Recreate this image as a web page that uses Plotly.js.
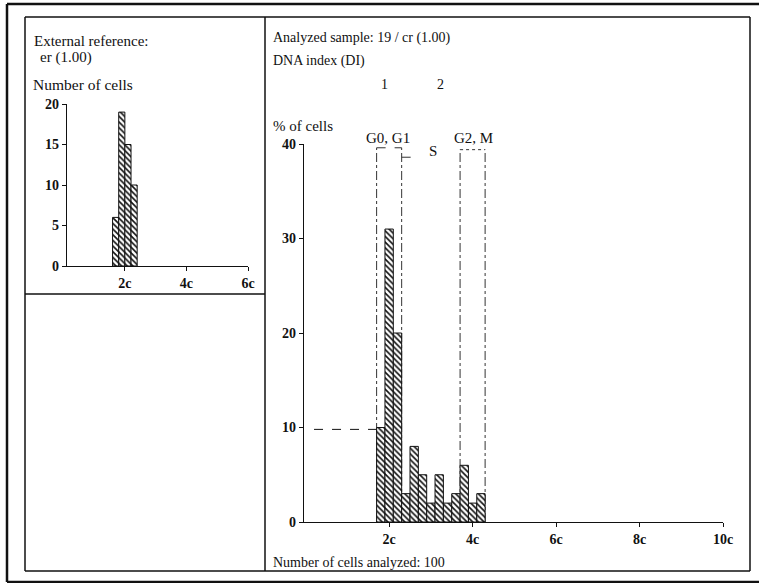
<!DOCTYPE html>
<html>
<head>
<meta charset="utf-8">
<script src="https://cdn.plot.ly/plotly-3.0.1.min.js"></script>
<style>html,body{margin:0;padding:0;background:#fff;}#chart{width:759px;height:583px;}</style>
</head>
<body>
<div id="chart"></div>
<script>
// ---- data ----
const refBins = [1.7, 1.9, 2.1, 2.3];
const refCounts = [6, 19, 15, 10];
const sampleBins = [1.8, 2.0, 2.2, 2.4, 2.6, 2.8, 3.0, 3.2, 3.4, 3.6, 3.8, 4.0, 4.2];
const samplePct = [10, 31, 20, 3, 8, 5, 2, 5, 2, 3, 6, 2, 3];
const mainTickVals = [2, 4, 6, 8, 10];
const mainTickText = ['2c', '4c', '6c', '8c', '10c'];
const refTickVals = [2, 4, 6];
const refTickText = ['2c', '4c', '6c'];
const g0g1 = [1.7, 2.3];
const sPhaseEnd = 2.72;
const g2m = [3.7, 4.3];
const refLevel = 9.8;
const diLabels = ['1', '2'];

const W = 759, H = 583;
const px = x => x / W;
const py = y => 1 - y / H;
const serif = 'Liberation Serif';

const pattern = {shape: '\\', fgcolor: '#111', bgcolor: '#fff', size: 4, solidity: 0.4};

const traces = [
  {type: 'bar', x: sampleBins, y: samplePct, width: 0.2, xaxis: 'x', yaxis: 'y',
   marker: {color: '#fff', line: {color: '#111', width: 1}, pattern: pattern},
   hoverinfo: 'skip'},
  {type: 'bar', x: refBins, y: refCounts, width: 0.2, xaxis: 'x2', yaxis: 'y2',
   marker: {color: '#fff', line: {color: '#111', width: 1}, pattern: pattern},
   hoverinfo: 'skip'}
];

const tickFont = {family: serif, size: 14, color: '#111', weight: 'bold'};
const axisCommon = {showgrid: false, zeroline: false, showline: true, linecolor: '#111', linewidth: 1.3,
  ticks: 'outside', ticklen: 4, tickcolor: '#111', tickfont: tickFont, fixedrange: true};

const shapes = [];
function pline(x0, y0, x1, y1, w) {
  shapes.push({type: 'line', xref: 'paper', yref: 'paper', x0: px(x0), y0: py(y0), x1: px(x1), y1: py(y1),
    line: {color: '#111', width: w}});
}
// outer frame
pline(7, 4, 759, 4, 2.5);
pline(7, 4, 7, 582, 2.5);
pline(7, 582, 759, 582, 2.5);
// inner frame
pline(25, 17, 750, 17, 1.5);
pline(25, 17, 25, 571, 1.5);
pline(750, 17, 750, 571, 1.5);
pline(25, 571, 750, 571, 1.5);
pline(265, 17, 265, 571, 1.5);
pline(25, 294, 265, 294, 1.5);

// phase markers (data coords)
const dl = {color: '#333', width: 1, dash: 'dashdot'};
g0g1.forEach(x => shapes.push({type: 'line', xref: 'x', yref: 'y', x0: x, x1: x, y0: 0, y1: 39.6, line: dl, layer: 'below'}));
shapes.push({type: 'line', xref: 'x', yref: 'y', x0: g0g1[0], x1: g0g1[1], y0: 39.6, y1: 39.6, line: {color: '#333', width: 1, dash: 'dash'}});
shapes.push({type: 'line', xref: 'x', yref: 'y', x0: g0g1[1], x1: sPhaseEnd, y0: 38.6, y1: 38.6, line: {color: '#333', width: 1, dash: 'dash'}});
g2m.forEach(x => shapes.push({type: 'line', xref: 'x', yref: 'y', x0: x, x1: x, y0: 0, y1: 39.4, line: dl, layer: 'below'}));
shapes.push({type: 'line', xref: 'x', yref: 'y', x0: g2m[0], x1: g2m[1], y0: 39.4, y1: 39.4, line: {color: '#333', width: 1, dash: 'dot'}});
shapes.push({type: 'line', xref: 'x', yref: 'y', x0: 0.2, x1: g0g1[0], y0: refLevel, y1: refLevel, line: {color: '#111', width: 1, dash: 'dash'}, layer: 'below'});

const annotations = [];
function txt(t, x, y, anchor, size) {
  annotations.push({text: t, xref: 'paper', yref: 'paper', x: px(x), y: py(y),
    xanchor: anchor || 'left', yanchor: 'middle', showarrow: false,
    font: {family: serif, size: size || 14, color: '#111'}});
}
txt('External reference:', 32, 41, 'left', 15);
txt('er (1.00)', 38, 58, 'left', 15);
txt('Number of cells', 31, 84, 'left', 15.5);
txt('Analyzed sample: 19 / cr (1.00)', 271, 38, 'left', 14);
txt('DNA index (DI)', 271, 61, 'left', 14);
txt(diLabels[0], 384, 84, 'center', 14);
txt(diLabels[1], 440, 84, 'center', 14);
txt('% of cells', 271, 126, 'left', 15);
txt('Number of cells analyzed: 100', 271, 562, 'left', 14);
txt('G0, G1', 388, 138, 'center', 15);
txt('S', 433, 151, 'center', 15);
txt('G2, M', 473, 138, 'center', 15);

const layout = {
  width: W, height: H, margin: {l: 0, r: 0, t: 0, b: 0},
  paper_bgcolor: '#fff', plot_bgcolor: 'rgba(0,0,0,0)',
  showlegend: false, bargap: 0,
  xaxis: Object.assign({}, axisCommon, {domain: [px(304), px(723)], range: [-0.04, 10],
    tickvals: mainTickVals, ticktext: mainTickText, anchor: 'y'}),
  yaxis: Object.assign({}, axisCommon, {domain: [py(522), py(144)], range: [0, 40],
    tickvals: [0, 10, 20, 30, 40], anchor: 'x'}),
  xaxis2: Object.assign({}, axisCommon, {domain: [px(67), px(248)], range: [0.12, 6],
    tickvals: refTickVals, ticktext: refTickText, anchor: 'y2'}),
  yaxis2: Object.assign({}, axisCommon, {domain: [py(266), py(104)], range: [0, 20],
    tickvals: [0, 5, 10, 15, 20], anchor: 'x2'}),
  shapes: shapes,
  annotations: annotations
};

Plotly.newPlot('chart', traces, layout, {displayModeBar: false, staticPlot: true});
</script>
</body>
</html>
